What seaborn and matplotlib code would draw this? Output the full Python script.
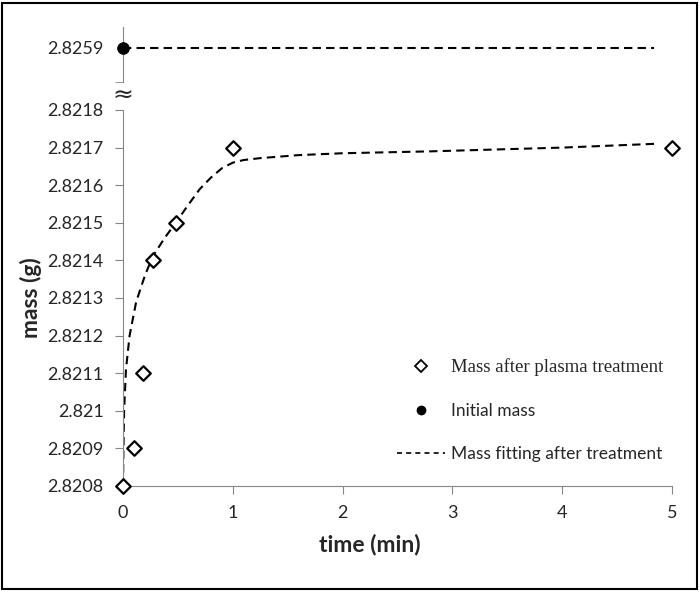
import numpy as np
import pandas as pd
import matplotlib
matplotlib.use("Agg")
import matplotlib.pyplot as plt
import seaborn as sns
from matplotlib.lines import Line2D
from matplotlib.patches import Rectangle

# measured points (time in min, mass in g)
time_min = [0, 0.1, 0.18, 0.27, 0.48, 1.0, 5.0]
mass_after = [2.8208, 2.8209, 2.8211, 2.8214, 2.8215, 2.8217, 2.8217]

initial_time = [0]
initial_mass = [2.8259]

# fitted curve
fit_time = [0, 0.003, 0.01, 0.027, 0.06, 0.12, 0.2, 0.27, 0.38, 0.48, 0.6,
            0.7, 0.8, 0.9, 1.0, 1.1, 1.25, 1.6, 2.0, 2.8, 4.0, 4.84]
fit_mass = [2.8208, 2.82088, 2.82100, 2.82111, 2.82120, 2.82129, 2.82136,
            2.82141, 2.82146, 2.82150, 2.82155, 2.82159, 2.82162, 2.821645,
            2.82166, 2.821667, 2.821672, 2.82168, 2.821685, 2.82169,
            2.82170, 2.82171]

# initial mass reference line
init_line_time = [0, 4.84]
init_line_mass = [2.8259, 2.8259]

y_ticks = [2.8208, 2.8209, 2.821, 2.8211, 2.8212, 2.8213, 2.8214, 2.8215,
           2.8216, 2.8217, 2.8218]
y_tick_labels = ["2.8208", "2.8209", "2.821", "2.8211", "2.8212", "2.8213",
                 "2.8214", "2.8215", "2.8216", "2.8217", "2.8218"]
x_ticks = [0, 1, 2, 3, 4, 5]

sns.set_style("ticks")
plt.rcParams['font.family'] = ['Lato', 'DejaVu Sans']

spine_col = "#868686"
text_col = "#262626"

fig = plt.figure(figsize=(7, 5.92), dpi=100)
W, H = 700, 592
ax = fig.add_axes([123 / W, 1 - 486 / H, (672 - 123) / W, (486 - 110) / H])
ax_top = fig.add_axes([123 / W, 1 - 82 / H, (672 - 123) / W, (82 - 27) / H], sharex=ax)

df = pd.DataFrame({"time": time_min, "mass": mass_after})
fit_df = pd.DataFrame({"time": fit_time, "mass": fit_mass})

sns.lineplot(data=fit_df, x="time", y="mass", ax=ax, color="black",
             linestyle=(0, (4, 2.5)), linewidth=1.5, sort=False)
sns.scatterplot(data=df, x="time", y="mass", ax=ax, marker="D", s=55,
                facecolor="white", edgecolor="black", linewidth=1.6,
                zorder=5, clip_on=False)

sns.lineplot(x=init_line_time, y=init_line_mass, ax=ax_top, color="black",
             linestyle=(0, (4, 2.5)), linewidth=1.5)
sns.scatterplot(x=initial_time, y=initial_mass, ax=ax_top, color="black",
                s=70, edgecolor="black", zorder=5, clip_on=False)

ax.set_xlim(0, 5)
ax.set_ylim(2.8208, 2.8218)
ax.set_xticks(x_ticks)
ax.set_xticklabels([str(t) for t in x_ticks])
ax.set_yticks(y_ticks)
ax.set_yticklabels(y_tick_labels)

d = 0.0001 / 37.6
ax_top.set_ylim(2.8259 - 34 * d, 2.8259 + 21 * d)
ax_top.set_yticks([2.8259])
ax_top.set_yticklabels(["2.8259"])
ax_top.set_yticks([2.8259 - 34 * d], minor=True)
ax_top.tick_params(axis="y", which="minor", length=6, color=spine_col)
ax_top.tick_params(axis="x", bottom=False, labelbottom=False)
ax_top.set_xlabel("")
ax_top.set_ylabel("")

for a in (ax, ax_top):
    for s in ("top", "right"):
        a.spines[s].set_visible(False)
    a.spines["left"].set_color(spine_col)
    a.spines["bottom"].set_color(spine_col)
    a.tick_params(axis="both", which="major", colors=spine_col, labelcolor=text_col,
                  labelsize=13, length=6, pad=8)
ax_top.spines["bottom"].set_visible(False)
ax_top.tick_params(axis="y", which="major", length=0, pad=14)

ax.set_xlabel("time (min)", fontsize=16.5, fontweight="bold", color=text_col)
ax.xaxis.set_label_coords(247 / 549, -0.128)
ax.set_ylabel("mass (g)", fontsize=16.5, fontweight="bold", color=text_col, labelpad=4)

# axis break mark
fig.text(123 / W, 1 - 96 / H, "\u2248", fontsize=18, ha="center", va="center",
         color=text_col, family=["DejaVu Sans"])

handles = [
    Line2D([], [], marker="D", linestyle="none", markerfacecolor="white",
           markeredgecolor="black", markeredgewidth=1.3, markersize=6),
    Line2D([], [], marker="o", linestyle="none", color="black", markersize=6),
    Line2D([], [], color="black", linestyle=(0, (3, 2.5)), linewidth=1.2),
]
labels = ["Mass after plasma treatment", "Initial mass", "Mass fitting after treatment"]
leg = fig.legend(handles, labels, loc="upper left",
                 bbox_to_anchor=(381 / W, 1 - 343 / H), frameon=False,
                 fontsize=12.5, labelspacing=1.55, handlelength=2.8,
                 handletextpad=0.35, labelcolor=text_col)
leg.get_texts()[0].set_family(["Liberation Serif"])
leg.get_texts()[0].set_fontsize(13.5)

fig.patches.append(Rectangle((2 / W, 3 / H), 695 / W, 586 / H, transform=fig.transFigure,
                             fill=False, edgecolor="black", linewidth=1.5))

fig.savefig("out.png", dpi=100)
